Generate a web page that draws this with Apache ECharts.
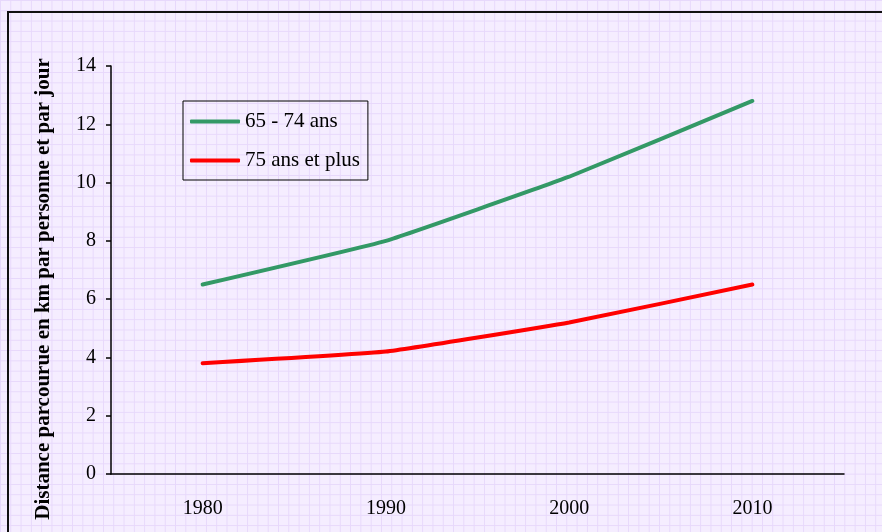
<!DOCTYPE html>
<html>
<head>
<meta charset="utf-8">
<script src="https://cdn.jsdelivr.net/npm/echarts@6/dist/echarts.min.js"></script>
<style>
  html, body { margin: 0; padding: 0; background: #fff; }
  #chart {
    width: 882px;
    height: 532px;
    background-color: #f5edff;
    background-image:
      linear-gradient(to right, #e7d8fb 1px, transparent 1px),
      linear-gradient(to bottom, #e7d8fb 1px, transparent 1px);
    background-size: 10.3px 10.3px;
  }
</style>
</head>
<body>
<div id="chart"></div>
<script>
// data
const years = ['1980', '1990', '2000', '2010'];
const age65to74 = [6.5, 8.0, 10.2, 12.8];
const age75plus = [3.8, 4.2, 5.2, 6.5];
const seriesNames = ['65 - 74 ans', '75 ans et plus'];

const serif = '"Liberation Serif", "DejaVu Serif", serif';

let myChart = echarts.init(document.getElementById('chart'));
myChart.setOption({
  animation: false,
  backgroundColor: 'transparent',
  textStyle: { fontFamily: serif, color: '#000' },
  graphic: [
    {
      type: 'rect',
      shape: { x: 8, y: 12, width: 1000, height: 1000 },
      style: { fill: 'none', stroke: '#111', lineWidth: 2 },
      silent: true
    }
  ],
  grid: { left: 111, right: 38, top: 66, bottom: 58 },
  legend: {
    left: 183,
    top: 101,
    orient: 'vertical',
    icon: 'roundRect',
    itemWidth: 50,
    itemHeight: 4,
    itemGap: 18,
    padding: [10, 8, 9, 7],
    borderColor: '#000',
    borderWidth: 1,
    backgroundColor: 'transparent',
    textStyle: { fontFamily: serif, fontSize: 21, lineHeight: 20, color: '#000' },
    data: seriesNames
  },
  xAxis: {
    type: 'category',
    data: years,
    boundaryGap: true,
    axisLine: { lineStyle: { color: '#000', width: 1.5 } },
    axisTick: { length: 5, lineStyle: { color: '#000', width: 1.5 } },
    axisLabel: { fontFamily: serif, fontSize: 20, color: '#000', margin: 25 },
    splitLine: { show: false }
  },
  yAxis: {
    type: 'value',
    min: 0,
    max: 14,
    interval: 2,
    name: 'Distance parcourue en km par personne et par jour',
    nameLocation: 'middle',
    nameGap: 57,
    nameRotate: 90,
    nameTextStyle: {
      fontFamily: serif, fontSize: 21, fontWeight: 'bold', color: '#000',
      padding: [0, 38, 0, 0]
    },
    axisLine: { show: true, lineStyle: { color: '#000', width: 1.5 } },
    axisTick: { show: true, length: 5, lineStyle: { color: '#000', width: 1.5 } },
    axisLabel: { fontFamily: serif, fontSize: 20, color: '#000', margin: 15 },
    splitLine: { show: false }
  },
  series: [
    {
      name: seriesNames[0],
      type: 'line',
      data: age65to74,
      smooth: 0.1,
      symbol: 'none',
      color: '#339966',
      lineStyle: { width: 4, color: '#339966', cap: 'round' }
    },
    {
      name: seriesNames[1],
      type: 'line',
      data: age75plus,
      smooth: 0.1,
      symbol: 'none',
      color: '#ff0000',
      lineStyle: { width: 4, color: '#ff0000', cap: 'round' }
    }
  ]
});
</script>
</body>
</html>
